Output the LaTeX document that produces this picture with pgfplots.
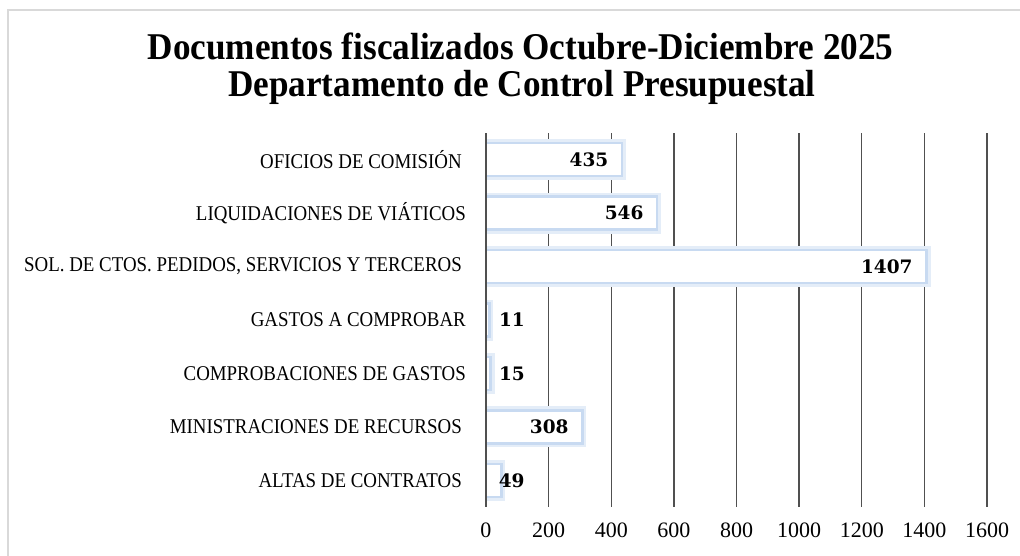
\documentclass[border=0pt]{standalone}
\usepackage{fontspec}
\setmainfont{Liberation Serif}
\newfontfamily\labelfont{Liberation Serif}[FakeStretch=0.9]
\newfontfamily\titlefont{Liberation Serif Bold}[FakeStretch=0.93]
\newfontfamily\valfont{DejaVu Serif Bold}
\usepackage{pgfplots}
\pgfplotsset{compat=1.18}
\usepackage{pgfplotstable}
\definecolor{gridc}{HTML}{505050}
\definecolor{glowA}{HTML}{E4EDF8}
\definecolor{glowB}{HTML}{C8DAF1}
\definecolor{framec}{HTML}{D9D9D9}

\pgfplotstableread{
y v lx
1 435 329
2 546 441
3 1407 1280
4 11 83
5 15 83
6 308 202
7 49 82
}\datatable

\newcommand{\tsp}{\rule{4pt}{0pt}}

\begin{document}
\begin{tikzpicture}
\useasboundingbox (0pt,0pt) rectangle (1020pt,555pt);
\begin{scope}
\clip (0pt,0pt) rectangle (1020pt,555pt);
\draw[framec, line width=2pt] (8pt,-20pt) -- (8pt,545pt) -- (1040pt,545pt);
\end{scope}
\node[font=\titlefont\fontsize{37.8}{40}\selectfont, anchor=base, inner sep=0pt] at (520.5pt,495pt) {Documentos fiscalizados Octubre-Diciembre 2025};
\node[font=\titlefont\fontsize{37.8}{40}\selectfont, anchor=base, inner sep=0pt] at (522pt,458pt) {Departamento de Control Presupuestal};
\begin{axis}[
  at={(486pt,48pt)}, anchor=south west,
  scale only axis, width=501pt, height=374pt,
  xmin=0, xmax=1600, ymin=0.5, ymax=7.5,
  y dir=reverse,
  xtick={0,200,...,1600},
  ytick={1,...,7},
  yticklabels={OFICIOS DE COMISIÓN\tsp, LIQUIDACIONES DE VIÁTICOS, SOL. DE CTOS. PEDIDOS{,} SERVICIOS Y TERCEROS\tsp, GASTOS A COMPROBAR, COMPROBACIONES DE GASTOS, MINISTRACIONES DE RECURSOS\tsp, ALTAS DE CONTRATOS\tsp},
  axis line style={draw=none},
  major tick length=0pt,
  xmajorgrids,
  grid style={gridc, line width=1.3pt},
  /pgf/number format/assume math mode=true,
  /pgf/number format/1000 sep={},
  xticklabel style={font=\fontsize{22}{24}\selectfont, inner sep=0pt, anchor=north, yshift=-16pt},
  yticklabel style={font=\labelfont\fontsize{21}{24}\selectfont, inner sep=0pt, anchor=east, xshift=-20pt},
]
\addplot[xbar, bar width=33pt, bar shift=0pt, fill=white, draw=glowA, line width=8pt] table[x=v, y=y] {\datatable};
\addplot[xbar, bar width=33pt, bar shift=0pt, fill=white, draw=glowB, line width=2.5pt] table[x=v, y=y] {\datatable};
\draw[gridc, line width=1.3pt] (axis cs:0,0.5) -- (axis cs:0,7.5);
\addplot[draw=none, mark=none, nodes near coords, point meta=explicit symbolic,
  every node near coord/.style={anchor=center, inner sep=0pt, font=\valfont\fontsize{18.5}{20}\selectfont}]
  table[x=lx, y=y, meta=v] {\datatable};
\end{axis}
\end{tikzpicture}
\end{document}
